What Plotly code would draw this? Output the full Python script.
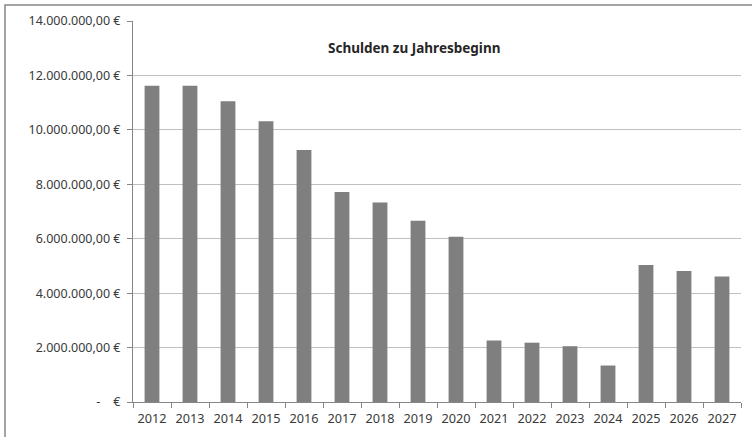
import plotly.graph_objects as go

years = [str(y) for y in range(2012, 2028)]
schulden = [11620000, 11620000, 11050000, 10320000, 9260000, 7720000, 7330000, 6660000,
            6070000, 2260000, 2180000, 2050000, 1340000, 5030000, 4810000, 4610000]
y_tick_vals = [0, 2000000, 4000000, 6000000, 8000000, 10000000, 12000000, 14000000]
y_tick_text = ["-    €", "2.000.000,00 €", "4.000.000,00 €", "6.000.000,00 €",
               "8.000.000,00 €", "10.000.000,00 €", "12.000.000,00 €", "14.000.000,00 €"]
title_text = "Schulden zu Jahresbeginn"

W, H = 752, 437
L, R, T, B = 133, 11, 21, 35
pw, ph = W - L - R, H - T - B

fig = go.Figure(go.Bar(x=years, y=schulden, marker=dict(color="#7f7f7f", line=dict(width=0)),
                       width=0.39, hoverinfo="skip"))

yfont = dict(family="Noto Sans, Open Sans, sans-serif", size=12.5, color="#3a3a3a")
xfont = dict(family="Noto Sans, Open Sans, sans-serif", size=12.7, color="#3a3a3a")
fig.update_layout(
    width=W, height=H, margin=dict(l=L, r=R, t=T, b=B, autoexpand=False),
    paper_bgcolor="white", plot_bgcolor="white", showlegend=False,
    xaxis=dict(type="category", showline=True, linecolor="#868686", linewidth=1,
               ticks="outside", tickson="boundaries", ticklen=5, tickcolor="#868686",
               showgrid=False, tickfont=xfont, tickangle=0, automargin=False,
               ticklabelstandoff=5),
    yaxis=dict(range=[0, 14000000], tickvals=y_tick_vals, ticktext=y_tick_text,
               showline=True, linecolor="#868686", linewidth=1, ticks="outside",
               ticklen=5, tickcolor="#868686", showgrid=True, gridcolor="#bfbfbf",
               gridwidth=1, zeroline=False, tickfont=yfont, ticklabelstandoff=4,
               automargin=False),
    annotations=[dict(text="<b>" + title_text + "</b>", xref="paper", yref="paper",
                      x=(414 - L) / pw, y=(H - B - 48) / ph, showarrow=False,
                      xanchor="center", yanchor="middle",
                      font=dict(family="Noto Sans, Open Sans, sans-serif", size=13.5, color="#262626"))],
    shapes=[dict(type="rect", xref="paper", yref="paper",
                 x0=(5 - L) / pw, x1=(W + 10 - L) / pw,
                 y0=(H - B - (H + 10)) / ph, y1=(H - B - 5) / ph,
                 line=dict(color="#868686", width=1.5), fillcolor="rgba(0,0,0,0)", layer="below")],
)

fig.write_html("out.html", config={"displayModeBar": False},
               post_script="document.body.style.margin='0';document.body.style.overflow='hidden';")
